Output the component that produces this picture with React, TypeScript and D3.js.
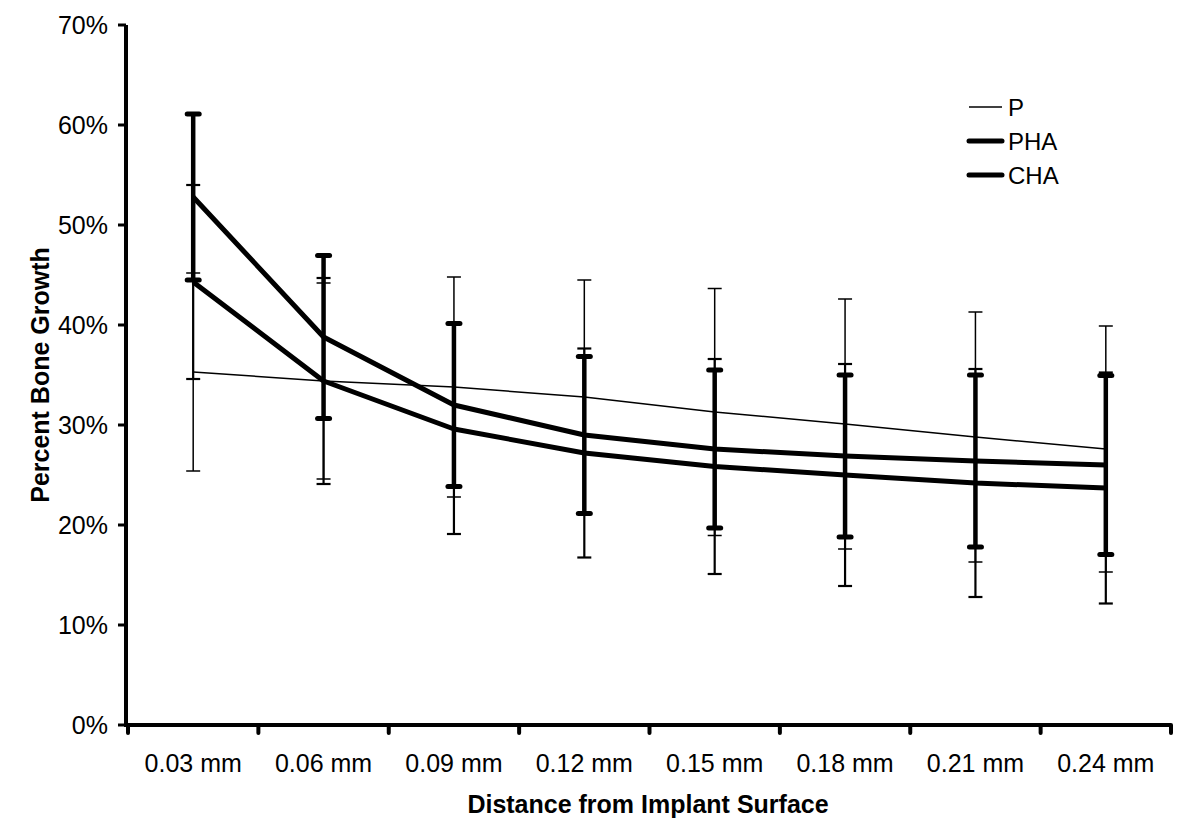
import React from "react";
import * as d3 from "d3";

const categories = ["0.03 mm", "0.06 mm", "0.09 mm", "0.12 mm", "0.15 mm", "0.18 mm", "0.21 mm", "0.24 mm"];
const yTicks = [0, 0.1, 0.2, 0.3, 0.4, 0.5, 0.6, 0.7];

const pMean = [35.3, 34.4, 33.8, 32.8, 31.3, 30.1, 28.8, 27.6];
const pErr = [9.9, 9.8, 11.0, 11.7, 12.35, 12.5, 12.5, 12.3];
const phaMean = [52.8, 38.8, 32.0, 29.0, 27.6, 26.9, 26.4, 26.0];
const phaErr = [8.3, 8.15, 8.15, 7.85, 7.9, 8.1, 8.6, 8.95];
const chaMean = [44.3, 34.4, 29.6, 27.2, 25.85, 25.0, 24.2, 23.7];
const chaErr = [9.7, 10.3, 10.5, 10.45, 10.75, 11.1, 11.4, 11.55];

const seriesNames = ["P", "PHA", "CHA"];

const W = 1200, H = 835;
const FONT = "'Liberation Sans', Arial, sans-serif";

export default function App() {
  const x = d3.scaleBand<string>().domain(categories).range([128, 1171]);
  const y = d3.scaleLinear().domain([0, 0.7]).range([725, 25]);
  const cx = (c: string) => (x(c) as number) + x.bandwidth() / 2;
  const line = d3.line<number>().x((_, i) => cx(categories[i])).y((v) => y(v / 100));

  const series = [
    { name: seriesNames[0], mean: pMean, err: pErr, lw: 1.5, ew: 1.5, cw: 1.5, capW: 14 },
    { name: seriesNames[1], mean: phaMean, err: phaErr, lw: 5, ew: 4.5, cw: 5, capW: 12 },
    { name: seriesNames[2], mean: chaMean, err: chaErr, lw: 5, ew: 2.2, cw: 2.2, capW: 14 },
  ];

  const bounds = x.range();
  const bandEdges = categories.map((c) => x(c) as number).concat([bounds[1]]);

  return (
    <svg width={W} height={H} style={{ position: "absolute", left: 0, top: 0, background: "#fff" }} fontFamily={FONT}>
      <rect x={0} y={0} width={W} height={H} fill="#fff" />
      {/* error bars */}
      {series.map((s) => (
        <g key={"e" + s.name}>
          {s.mean.map((m, i) => {
            const px = cx(categories[i]);
            const yt = y((m + s.err[i]) / 100);
            const yb = y((m - s.err[i]) / 100);
            return (
              <g key={i}>
                <line x1={px} x2={px} y1={yt} y2={yb} stroke="#000" strokeWidth={s.ew} />
                <line x1={px - s.capW / 2} x2={px + s.capW / 2} y1={yt} y2={yt} stroke="#000" strokeWidth={s.cw} strokeLinecap={s.cw > 3 ? "round" : "butt"} />
                <line x1={px - s.capW / 2} x2={px + s.capW / 2} y1={yb} y2={yb} stroke="#000" strokeWidth={s.cw} strokeLinecap={s.cw > 3 ? "round" : "butt"} />
              </g>
            );
          })}
        </g>
      ))}
      {/* lines */}
      {series.map((s) => (
        <path key={"l" + s.name} d={line(s.mean) as string} fill="none" stroke="#000" strokeWidth={s.lw} strokeLinejoin="round" />
      ))}
      {/* y axis */}
      <line x1={126} x2={126} y1={y(0.7)} y2={y(0) + 2} stroke="#000" strokeWidth={4} />
      {yTicks.map((t) => (
        <g key={t}>
          <line x1={118} x2={126} y1={y(t)} y2={y(t)} stroke="#000" strokeWidth={3} />
          <text x={108} y={y(t)} dy="0.36em" textAnchor="end" fontSize={25} fill="#000">
            {d3.format(".0%")(t)}
          </text>
        </g>
      ))}
      {/* x axis */}
      <line x1={124} x2={bounds[1]} y1={725} y2={725} stroke="#000" strokeWidth={4} />
      {bandEdges.map((e, i) => (
        <line key={i} x1={e} x2={e} y1={725} y2={733} stroke="#000" strokeWidth={4} strokeLinecap="round" />
      ))}
      {categories.map((c) => (
        <text key={c} x={cx(c)} y={763} dy="0.36em" textAnchor="middle" fontSize={25} fill="#000">
          {c}
        </text>
      ))}
      <text x={648} y={804} dy="0.36em" textAnchor="middle" fontSize={25} fontWeight="bold" fill="#000">
        Distance from Implant Surface
      </text>
      <text transform="translate(40,375) rotate(-90)" textAnchor="middle" dy="0.36em" fontSize={25} fontWeight="bold" fill="#000">
        Percent Bone Growth
      </text>
      {/* legend */}
      {series.map((s, i) => (
        <g key={"lg" + s.name}>
          <line x1={969} x2={1002} y1={107 + i * 34} y2={107 + i * 34} stroke="#000" strokeWidth={s.lw} strokeLinecap={s.lw > 3 ? "round" : "butt"} />
          <text x={1008} y={107 + i * 34} dy="0.36em" fontSize={24} fill="#000">
            {s.name}
          </text>
        </g>
      ))}
    </svg>
  );
}
